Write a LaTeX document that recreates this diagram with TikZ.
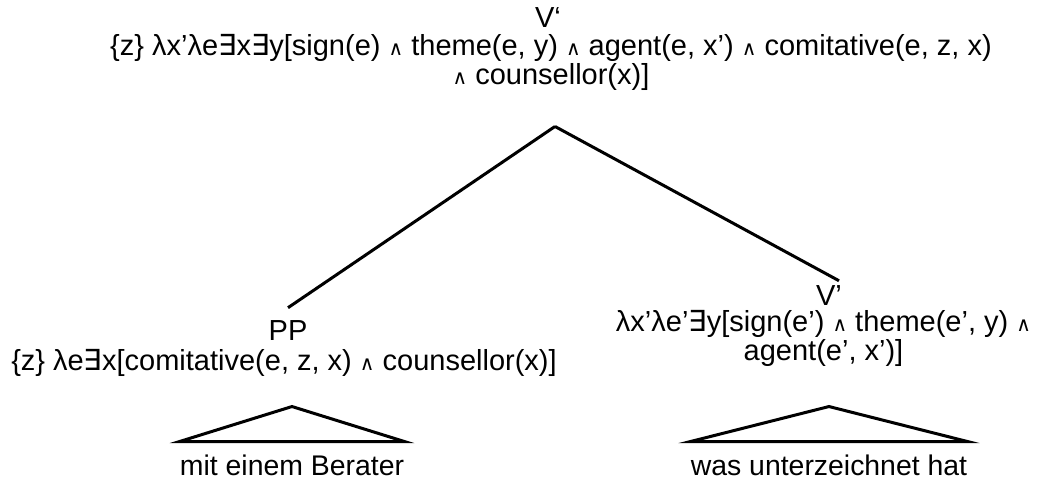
\documentclass[tikz,border=0pt]{standalone}
\usepackage{fontspec}
\setmainfont{Liberation Sans}
\newfontfamily\symfont{DejaVu Sans}
\usetikzlibrary{positioning}

\newcommand{\lam}{λ}
\newcommand{\ex}{{\symfont ∃}}
\newcommand{\und}{{\symfont\fontsize{10}{10}\selectfont ∧}}

\begin{document}
\begin{tikzpicture}[
  x=0.5pt, y=-0.5pt,
  every node/.style={font=\fontsize{14.5}{14.5}\selectfont, inner sep=0pt},
  cat/.style={anchor=base},
  sem/.style={align=center, anchor=north},
  branch/.style={line width=1.5pt},
  roof/.style={line width=1.5pt, line join=miter},
  leaf/.style={anchor=base, inner ysep=6.25pt, font=\fontsize{14.2}{14.2}\selectfont}
]
  \useasboundingbox (0,0) rectangle (1059,479);

  % Mother node
  \node[sem] (vbarsem) at (551,33.5)
    {\{z\} \lam x’\lam e\ex x\ex y[sign(e) \und{} theme(e, y) \und{} agent(e, x’) \und{} comitative(e, z, x)\\
     \und{} counsellor(x)]};
  \node[above=3pt of vbarsem, xshift=-1.5pt] (vbar) {V‘};

  % Left daughter (PP)
  \node[cat] (ppsem) at (284,370)
    {\{z\} \lam e\ex x[comitative(e, z, x) \und{} counsellor(x)]};
  \node[above=4pt of ppsem, xshift=2pt] (pp) {PP};

  % Right daughter (V')
  \node[sem] (vpsem) at (823.5,309.5)
    {\lam x’\lam e’\ex y[sign(e’) \und{} theme(e’, y) \und{}\\ agent(e’, x’)]};
  \node[above=2pt of vpsem, xshift=2.75pt] (vp) {V’};

  % Branches
  \draw[branch] ([xshift=2pt,yshift=-18pt]vbarsem.south) -- ([xshift=0pt,yshift=6pt]pp.north);
  \draw[branch] ([xshift=2pt,yshift=-18pt]vbarsem.south) -- ([xshift=5pt,yshift=2pt]vp.north);

  % Leaves with roofs
  \node[leaf] (ppleaf) at (292,475) {mit einem Berater};
  \node[leaf] (vpleaf) at (829,475) {was unterzeichnet hat};

  \draw[roof] (ppleaf.north west) -- ([yshift=17.5pt]ppleaf.north) -- (ppleaf.north east) -- cycle;
  \draw[roof] (vpleaf.north west) -- ([yshift=17.5pt]vpleaf.north) -- (vpleaf.north east) -- cycle;
\end{tikzpicture}
\end{document}
